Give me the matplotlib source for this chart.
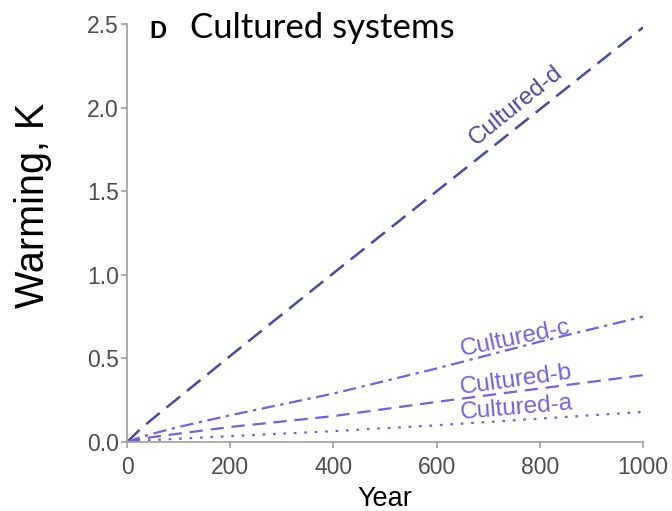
import numpy as np
import matplotlib.pyplot as plt

# data
years = [0, 25, 50, 100, 200, 400, 600, 800, 1000]
cult_d = [0, 0.075, 0.14, 0.265, 0.515, 1.01, 1.50, 1.99, 2.48]
cult_c = [0, 0.028, 0.05, 0.09, 0.16, 0.29, 0.44, 0.60, 0.75]
cult_b = [0, 0.016, 0.03, 0.05, 0.09, 0.155, 0.24, 0.32, 0.40]
cult_a = [0, 0.006, 0.012, 0.02, 0.035, 0.065, 0.10, 0.14, 0.18]

dark = '#4a4a9e'
light = '#7262dc'
grey = '#a0a0a0'

plt.rcParams['font.family'] = ['Liberation Sans', 'DejaVu Sans']

fig = plt.figure(figsize=(6.72, 5.11), dpi=100)
ax = fig.add_axes([0.189, 0.135, 0.768, 0.818])

ax.plot(years, cult_d, color=dark, lw=1.8, dashes=(7, 3.5))
ax.plot(years, cult_c, color=light, lw=1.6, dashes=(6, 2.5, 1.5, 2.5))
ax.plot(years, cult_b, color=light, lw=1.6, dashes=(6, 3.5))
ax.plot(years, cult_a, color=light, lw=1.6, dashes=(1.2, 3.5))

ax.text(754, 2.01, 'Cultured-d', color=dark, fontsize=17.5, rotation=39,
        ha='center', va='center')
ax.text(752, 0.62, 'Cultured-c', color=light, fontsize=17.5, rotation=12,
        ha='center', va='center')
ax.text(754, 0.37, 'Cultured-b', color=light, fontsize=17.5, rotation=8,
        ha='center', va='center')
ax.text(754, 0.20, 'Cultured-a', color=light, fontsize=17.5, rotation=5,
        ha='center', va='center')

ax.set_xlim(0, 1000)
ax.set_ylim(0, 2.5)
ax.set_xticks([0, 200, 400, 600, 800, 1000])
ax.set_yticks(np.arange(0, 2.51, 0.5))
ax.set_yticklabels(['0.0', '0.5', '1.0', '1.5', '2.0', '2.5'])

for s in ['top', 'right']:
    ax.spines[s].set_visible(False)
for s in ['left', 'bottom']:
    ax.spines[s].set_color(grey)
    ax.spines[s].set_linewidth(1.2)
ax.tick_params(colors=grey, labelcolor='#4d4d4d', labelsize=16.5, length=4,
               width=1.2)
ax.tick_params(axis='x', pad=6)
ax.tick_params(axis='y', pad=2)

ax.set_xlabel('Year', fontsize=19.5, labelpad=5)
ax.set_ylabel('Warming, K', fontsize=28.5)
ax.yaxis.set_label_coords(-0.145, 0.565)

fig.text(0.223, 0.926, 'D', fontsize=17, fontweight='bold', va='baseline')
fig.text(0.282, 0.926, 'Cultured systems', fontsize=25, family='Lato',
         va='baseline')

fig.savefig('out.png', dpi=100)
